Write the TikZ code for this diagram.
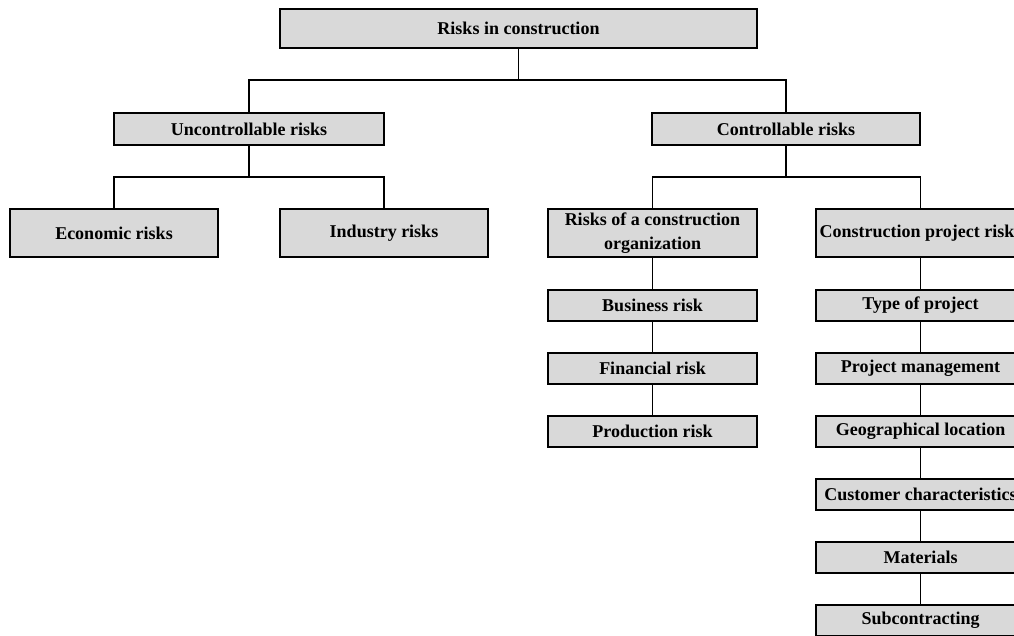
\documentclass[tikz,border=0pt]{standalone}
\usepackage{fontspec}
\setmainfont{Liberation Serif}
\begin{document}
\begin{tikzpicture}[x=1pt,y=-1pt,
  box/.style={draw=black,fill=boxgray,line width=1.5pt,rectangle,inner sep=0pt,
    font=\fontsize{18}{24}\selectfont\bfseries,align=center},
  link/.style={draw=black,line width=1.5pt}]
\definecolor{boxgray}{HTML}{D9D9D9}
\useasboundingbox (0,0) rectangle (1014,635);
\clip (0,0) rectangle (1014,635);
\node[box,minimum width=477pt,minimum height=39pt] (top) at (518.5,28.5) {Risks in construction};
\node[box,minimum width=270pt,minimum height=32pt] (unc) at (249,129) {Uncontrollable risks};
\node[box,minimum width=268pt,minimum height=32pt] (con) at (786,129) {Controllable risks};
\node[box,minimum width=208pt,minimum height=48pt] (eco) at (114,233) {Economic risks};
\node[box,minimum width=208pt,minimum height=48pt] (ind) at (384,233) {Industry risks};
\node[box,minimum width=209pt,minimum height=48pt] (org) at (652.5,233) {Risks of a construction\\organization};
\node[box,minimum width=209pt,minimum height=48pt] (prj) at (920.5,233) {Construction project risks};
\node[box,minimum width=209pt,minimum height=31pt] (bus) at (652.5,305.5) {Business risk};
\node[box,minimum width=209pt,minimum height=31pt] (fin) at (652.5,368.5) {Financial risk};
\node[box,minimum width=209pt,minimum height=31pt] (pro) at (652.5,431.5) {Production risk};
\node[box,minimum width=209pt,minimum height=31pt] (typ) at (920.5,305.5) {Type of project};
\node[box,minimum width=209pt,minimum height=31pt] (man) at (920.5,368.5) {Project management};
\node[box,minimum width=209pt,minimum height=31pt] (geo) at (920.5,431.5) {Geographical location};
\node[box,minimum width=209pt,minimum height=31pt] (cus) at (920.5,494.5) {Customer characteristics};
\node[box,minimum width=209pt,minimum height=31pt] (mat) at (920.5,557.5) {Materials};
\node[box,minimum width=209pt,minimum height=31pt] (sub) at (920.5,620.5) {Subcontracting};
\coordinate (h1) at (518.5,80);
\coordinate (h2) at (249,177);
\coordinate (h3) at (786,177);
\draw[link] (top.south) -- (h1);
\draw[link] (h1) -| (unc.north);
\draw[link] (h1) -| (con.north);
\draw[link] (unc.south) -- (h2);
\draw[link] (h2) -| (eco.north);
\draw[link] (h2) -| (ind.north);
\draw[link] (con.south) -- (h3);
\draw[link] (h3) -| (org.north);
\draw[link] (h3) -| (prj.north);
\draw[link] (org.south) -- (bus.north);
\draw[link] (bus.south) -- (fin.north);
\draw[link] (fin.south) -- (pro.north);
\draw[link] (prj.south) -- (typ.north);
\draw[link] (typ.south) -- (man.north);
\draw[link] (man.south) -- (geo.north);
\draw[link] (geo.south) -- (cus.north);
\draw[link] (cus.south) -- (mat.north);
\draw[link] (mat.south) -- (sub.north);
\end{tikzpicture}
\end{document}
